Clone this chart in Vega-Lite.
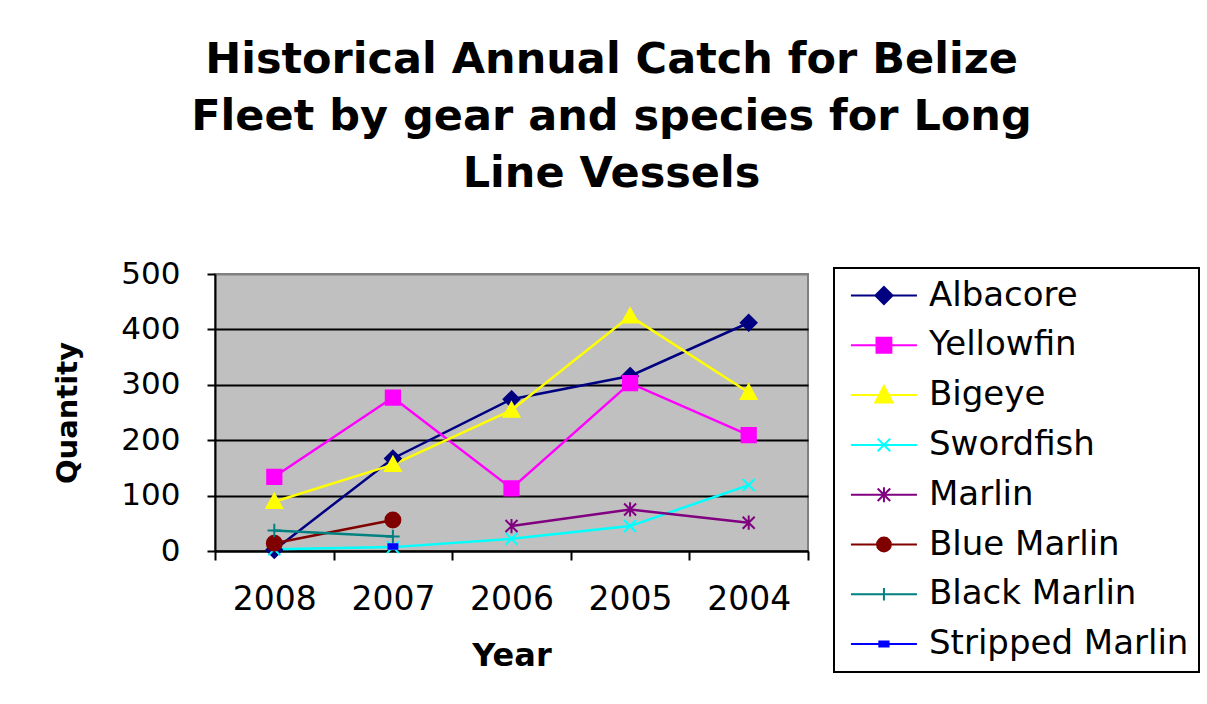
{
  "$schema": "https://vega.github.io/schema/vega-lite/v6.json",
  "width": 593,
  "height": 277,
  "autosize": {"type": "none"},
  "padding": {"left": 215, "top": 274, "right": 399, "bottom": 153},
  "background": "white",
  "title": {
    "text": ["Historical Annual Catch for Belize", "Fleet by gear and species for Long", "Line Vessels"],
    "font": "DejaVu Sans",
    "fontSize": 43,
    "fontWeight": "bold",
    "lineHeight": 57,
    "anchor": "middle",
    "dx": 100,
    "offset": 62,
    "color": "black"
  },
  "data": {
    "values": [
      {"year": "2008", "species": "Albacore", "qty": 2},
      {"year": "2007", "species": "Albacore", "qty": 167},
      {"year": "2006", "species": "Albacore", "qty": 274},
      {"year": "2005", "species": "Albacore", "qty": 316},
      {"year": "2004", "species": "Albacore", "qty": 412},
      {"year": "2008", "species": "Yellowfin", "qty": 134},
      {"year": "2007", "species": "Yellowfin", "qty": 277},
      {"year": "2006", "species": "Yellowfin", "qty": 113},
      {"year": "2005", "species": "Yellowfin", "qty": 303},
      {"year": "2004", "species": "Yellowfin", "qty": 209},
      {"year": "2008", "species": "Bigeye", "qty": 89},
      {"year": "2007", "species": "Bigeye", "qty": 156},
      {"year": "2006", "species": "Bigeye", "qty": 254},
      {"year": "2005", "species": "Bigeye", "qty": 424},
      {"year": "2004", "species": "Bigeye", "qty": 286},
      {"year": "2008", "species": "Swordfish", "qty": 3},
      {"year": "2007", "species": "Swordfish", "qty": 7},
      {"year": "2006", "species": "Swordfish", "qty": 22},
      {"year": "2005", "species": "Swordfish", "qty": 45},
      {"year": "2004", "species": "Swordfish", "qty": 119},
      {"year": "2006", "species": "Marlin", "qty": 45},
      {"year": "2005", "species": "Marlin", "qty": 75},
      {"year": "2004", "species": "Marlin", "qty": 51},
      {"year": "2008", "species": "Blue Marlin", "qty": 14},
      {"year": "2007", "species": "Blue Marlin", "qty": 56},
      {"year": "2008", "species": "Black Marlin", "qty": 37},
      {"year": "2007", "species": "Black Marlin", "qty": 26},
      {"year": "2007", "species": "Stripped Marlin", "qty": 8}
    ]
  },
  "config": {
    "view": {"fill": "#C0C0C0", "stroke": "#808080", "strokeWidth": 2},
    "axis": {
      "domainColor": "black",
      "domainWidth": 2,
      "tickColor": "black",
      "tickWidth": 2,
      "labelColor": "black",
      "titleColor": "black",
      "labelFont": "DejaVu Sans",
      "titleFont": "DejaVu Sans",
      "titleFontWeight": "bold"
    },
    "legend": {"strokeWidth": 2}
  },
  "encoding": {
    "x": {
      "field": "year",
      "type": "nominal",
      "sort": ["2008", "2007", "2006", "2005", "2004"],
      "scale": {"type": "band", "paddingInner": 0, "paddingOuter": 0},
      "axis": {
        "title": "Year",
        "titleFontSize": 32,
        "titlePadding": 24,
        "labelFontSize": 33,
        "labelAngle": 0,
        "labelPadding": 23,
        "tickSize": 9,
        "tickBand": "extent",
        "grid": false
      }
    },
    "y": {
      "field": "qty",
      "type": "quantitative",
      "scale": {"domain": [0, 500], "nice": false},
      "axis": {
        "title": "Quantity",
        "titleFontSize": 29,
        "titlePadding": 38,
        "labelFontSize": 31,
        "labelPadding": 27,
        "tickSize": 8,
        "values": [0, 100, 200, 300, 400, 500],
        "grid": true,
        "gridWidth": 2,
        "gridColor": {"condition": {"test": "datum.value === 500", "value": "#808080"}, "value": "black"}
      }
    }
  },
  "layer": [
    {
      "mark": {"type": "line", "strokeWidth": 2.5},
      "encoding": {
        "stroke": {
          "field": "species",
          "type": "nominal",
          "scale": {
            "domain": ["Albacore", "Yellowfin", "Bigeye", "Swordfish", "Marlin", "Blue Marlin", "Black Marlin", "Stripped Marlin"],
            "range": ["#000080", "#FF00FF", "#FFFF00", "#00FFFF", "#800080", "#800000", "#008080", "#0000FF"]
          },
          "legend": null
        }
      }
    },
    {
      "mark": {"type": "point", "filled": true, "size": 225, "strokeWidth": 2, "opacity": 1},
      "encoding": {
        "fill": {
          "field": "species",
          "type": "nominal",
          "scale": {
            "domain": ["Albacore", "Yellowfin", "Bigeye", "Swordfish", "Marlin", "Blue Marlin", "Black Marlin", "Stripped Marlin"],
            "range": ["#000080", "#FF00FF", "#FFFF00", "#00FFFF", "#800080", "#800000", "#008080", "#0000FF"]
          },
          "legend": null
        },
        "stroke": {
          "field": "species",
          "type": "nominal",
          "scale": {
            "domain": ["Albacore", "Yellowfin", "Bigeye", "Swordfish", "Marlin", "Blue Marlin", "Black Marlin", "Stripped Marlin"],
            "range": ["#000080", "#FF00FF", "#FFFF00", "#00FFFF", "#800080", "#800000", "#008080", "#0000FF"]
          },
          "legend": null
        },
        "shape": {
          "field": "species",
          "type": "nominal",
          "scale": {
            "domain": ["Albacore", "Yellowfin", "Bigeye", "Swordfish", "Marlin", "Blue Marlin", "Black Marlin", "Stripped Marlin"],
            "range": [
              "M0,-1.05L1.05,0L0,1.05L-1.05,0Z",
              "M-0.95,-0.95H0.95V0.95H-0.95Z",
              "M0,-1.05L1.05,0.85H-1.05Z",
              "M-0.8,-0.8L0.8,0.8M-0.8,0.8L0.8,-0.8",
              "M-0.8,-0.8L0.8,0.8M-0.8,0.8L0.8,-0.8M0,-0.95V0.95",
              "M-1,0A1,1,0,1,1,1,0A1,1,0,1,1,-1,0Z",
              "M-0.9,0H0.9M0,-0.9V0.9",
              "M-0.6,-0.3H0.6V0.3H-0.6Z"
            ]
          },
          "legend": null
        }
      }
    },
    {
      "transform": [{"filter": "false"}],
      "mark": {"type": "point", "filled": true, "size": 1089, "strokeWidth": 2, "opacity": 1},
      "encoding": {
        "fill": {
          "field": "species",
          "type": "nominal",
          "scale": {
            "domain": ["Albacore", "Yellowfin", "Bigeye", "Swordfish", "Marlin", "Blue Marlin", "Black Marlin", "Stripped Marlin"],
            "range": ["#000080", "#FF00FF", "#FFFF00", "#00FFFF", "#800080", "#800000", "#008080", "#0000FF"]
          },
          "legend": {
            "orient": "none", "legendX": 619, "legendY": -6, "title": null,
            "strokeColor": "black", "padding": 10,
            "labelFont": "DejaVu Sans", "labelFontSize": 34, "labelColor": "black",
            "labelOffset": 50, "labelLimit": 400,
            "symbolSize": 1089, "symbolStrokeWidth": 2, "rowPadding": 14.8
          }
        },
        "stroke": {
          "field": "species",
          "type": "nominal",
          "scale": {
            "domain": ["Albacore", "Yellowfin", "Bigeye", "Swordfish", "Marlin", "Blue Marlin", "Black Marlin", "Stripped Marlin"],
            "range": ["#000080", "#FF00FF", "#FFFF00", "#00FFFF", "#800080", "#800000", "#008080", "#0000FF"]
          },
          "legend": {
            "orient": "none", "legendX": 619, "legendY": -6, "title": null,
            "strokeColor": "black", "padding": 10,
            "labelFont": "DejaVu Sans", "labelFontSize": 34, "labelColor": "black",
            "labelOffset": 50, "labelLimit": 400,
            "symbolSize": 1089, "symbolStrokeWidth": 2, "rowPadding": 14.8
          }
        },
        "shape": {
          "field": "species",
          "type": "nominal",
          "scale": {
            "domain": ["Albacore", "Yellowfin", "Bigeye", "Swordfish", "Marlin", "Blue Marlin", "Black Marlin", "Stripped Marlin"],
            "range": [
              "M-0.64,0H3.36M1.36,-0.52L1.88,0L1.36,0.52L0.84,0Z",
              "M-0.64,0H3.36M0.91,-0.45H1.81V0.45H0.91Z",
              "M-0.64,0H3.36M1.36,-0.55L1.88,0.45H0.84Z",
              "M-0.64,0H3.36M0.98,-0.38L1.74,0.38M0.98,0.38L1.74,-0.38",
              "M-0.64,0H3.36M0.98,-0.38L1.74,0.38M0.98,0.38L1.74,-0.38M1.36,-0.45V0.45",
              "M-0.64,0H3.36M0.94,0A0.42,0.42,0,1,1,1.78,0A0.42,0.42,0,1,1,0.94,0Z",
              "M-0.64,0H3.36M1.36,-0.38V0.38",
              "M-0.64,0H3.36M1.08,-0.15H1.64V0.15H1.08Z"
            ]
          },
          "legend": {
            "orient": "none", "legendX": 619, "legendY": -6, "title": null,
            "strokeColor": "black", "padding": 10,
            "labelFont": "DejaVu Sans", "labelFontSize": 34, "labelColor": "black",
            "labelOffset": 50, "labelLimit": 400,
            "symbolSize": 1089, "symbolStrokeWidth": 2, "rowPadding": 14.8
          }
        }
      }
    }
  ],
  "resolve": {
    "scale": {"shape": "independent"},
    "legend": {"fill": "independent", "stroke": "independent", "shape": "independent"}
  }
}
